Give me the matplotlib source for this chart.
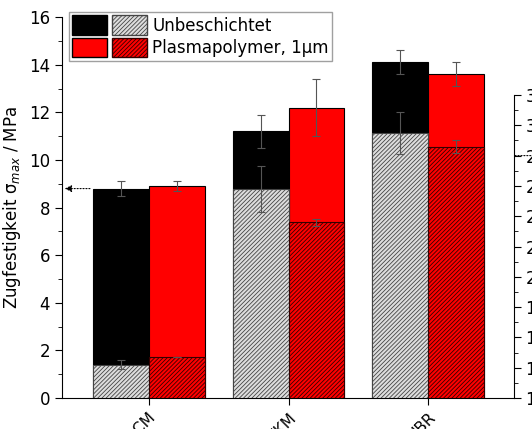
import matplotlib
matplotlib.use("Agg")
import matplotlib.pyplot as plt
import numpy as np
from matplotlib.patches import Patch
from matplotlib.legend_handler import HandlerTuple

categories = ["ACM", "FKM", "NBR"]
# tensile strength (left axis, MPa)
strength_unc = [8.8, 11.2, 14.1]
strength_unc_err = [0.3, 0.7, 0.5]
strength_pp = [8.9, 12.2, 13.6]
strength_pp_err = [0.2, 1.2, 0.5]
# hatched series (right axis)
right_unc = [14.2, 25.8, 29.5]
right_unc_err = [0.3, 1.5, 1.4]
right_pp = [14.7, 23.6, 28.6]
right_pp_err = [0.0, 0.25, 0.4]

plt.rcParams["hatch.linewidth"] = 0.6
fig = plt.figure(figsize=(5.32, 4.29), dpi=100)
ax = fig.add_axes([0.1165, 0.072, 0.849, 0.888])
ax2 = ax.twinx()
x = np.arange(len(categories))
w = 0.4
ekw = dict(ecolor="#555555", capsize=3, elinewidth=0.8, capthick=0.8)

ax.bar(x - w/2, strength_unc, w, color="black", edgecolor="black", lw=0.8,
       yerr=strength_unc_err, error_kw=ekw, zorder=1)
ax.bar(x + w/2, strength_pp, w, color="#ff0000", edgecolor="black", lw=0.8,
       yerr=strength_pp_err, error_kw=ekw, zorder=1)

ax2.bar(x - w/2, np.array(right_unc) - 12, w, bottom=12, color="#dddddd",
        edgecolor="#444444", hatch="////////", lw=0.8, yerr=right_unc_err, error_kw=ekw)
ax2.bar(x + w/2, np.array(right_pp) - 12, w, bottom=12, color="#ff0000",
        edgecolor="#330000", hatch="////////", lw=0.8, yerr=right_pp_err, error_kw=ekw)

ax.set_xlim(-0.62, 2.61)
ax.set_ylim(0, 16)
ax2.set_ylim(12, 12 + 16 * 23.8 / 15.15)
ax2.set_yticks(np.arange(12, 33, 2))
ax2.set_yticks(np.arange(13, 33, 2), minor=True)
ax.set_yticks(np.arange(1, 16, 2), minor=True)
ax2.spines["right"].set_bounds(12, 32)
for a in (ax, ax2):
    a.spines["top"].set_visible(False)
    a.tick_params(labelsize=12, direction="out", length=5)
    a.tick_params(which="minor", length=3)
ax2.spines["left"].set_visible(False)
ax.spines["right"].set_visible(False)
ax2.spines["bottom"].set_visible(False)

ax.set_xticks(x)
ax.set_xticklabels(categories, rotation=45, fontsize=11, ha="right",
                   rotation_mode="anchor")
ax.set_ylabel("Zugfestigkeit σ$_{max}$ / MPa", fontsize=12)

# arrows pointing to the respective axes
ax.annotate("", xy=(-0.62, 8.8), xytext=(-0.4, 8.8),
            arrowprops=dict(arrowstyle="-|>", ls=":", color="black", lw=0.8))
ax2.annotate("", xy=(2.82, 28.0), xytext=(2.6, 28.0),
             arrowprops=dict(arrowstyle="-|>", ls=":", color="black", lw=0.8),
             annotation_clip=False)

h1 = (Patch(facecolor="black", edgecolor="black"),
      Patch(facecolor="#dddddd", edgecolor="#444444", hatch="////////"))
h2 = (Patch(facecolor="#ff0000", edgecolor="black"),
      Patch(facecolor="#ff0000", edgecolor="#330000", hatch="////////"))
ax2.legend([h1, h2], ["Unbeschichtet", "Plasmapolymer, 1µm"],
           handler_map={tuple: HandlerTuple(ndivide=None, pad=0.3)},
           loc="upper left", bbox_to_anchor=(-0.003, 1.035), fontsize=12,
           handlelength=4.5, handleheight=1.4, fancybox=False,
           edgecolor="#888888", borderpad=0.2, labelspacing=0.2, handletextpad=0.3)

fig.savefig("out.png")
